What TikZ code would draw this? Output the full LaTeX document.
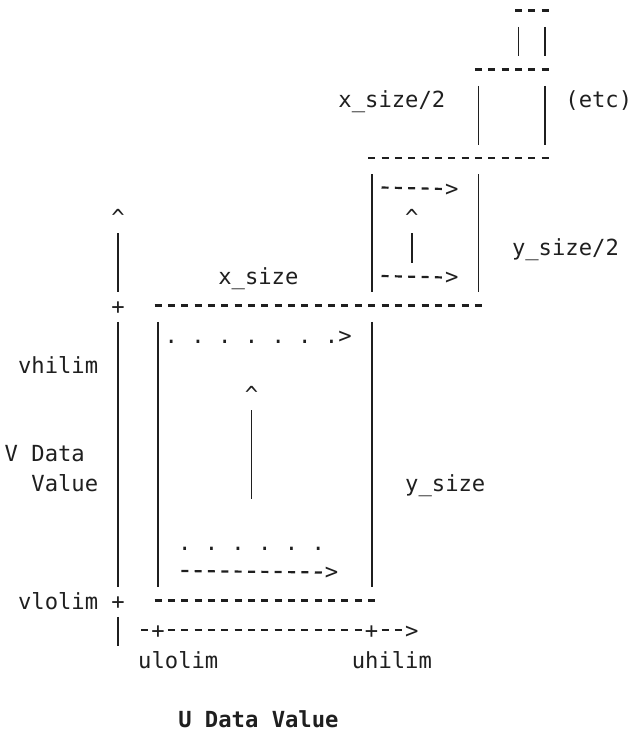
\documentclass[tikz,border=0pt]{standalone}
\usepackage{fontspec}
\setmonofont{DejaVu Sans Mono}
\usepackage{tikz}

\begin{document}
\begin{tikzpicture}[x=13.35pt,y=-29.5pt,
	ch/.style={inner sep=0pt,minimum width=13.35pt,minimum height=29.5pt,text height=20pt,text depth=5.2pt,text=black!88,font=\ttfamily\fontsize{22.18}{29.5}\selectfont},
	lbl/.style={ch,minimum width=0pt,anchor=west},
	bar/.style={line width=1.8pt,black!88},
	dashrun/.style={line width=2.2pt,black!88,dash pattern=on 7pt off 6.35pt,yshift=1.5pt}]
		\useasboundingbox (-0.84,-0.407) rectangle (46.5,24.407);
		% V axis
		\node[ch] (vtip) at (8,7) {\textasciicircum};
		\node[ch] (vhi) at (8,10) {+};
		\node[ch] (vlo) at (8,20) {+};
		\coordinate (vend) at (8,21.5);
		\draw[bar] (vtip.south) -- (vhi.north) (vhi.south) -- (vlo.north) (vlo.south) -- (vend);
		% boxes
		\foreach \c/\a/\b in {38/1/1,40/1/1,35/3/4,40/3/4,27/6/9,35/6/9,11/11/19,27/11/19}
			\draw[bar] (\c,\a-.5) -- (\c,\b+.5);
		\foreach \a/\b/\r in {38/40/0,35/40/2,27/40/5,11/35/10,11/27/20,10/10/21,12/26/21,28/29/21}
			\draw[dashrun] (\a-.262,\r) -- (\b+.262,\r);
		% U axis
		\node[ch] (ulo) at (11,21) {+};
		\node[ch] (uhi) at (27,21) {+};
		\node[ch] (uhead) at (30,21) {>};
		% scan arrows
		\node[ch] (shead1) at (33,6) {>};
		\node[ch] (shead2) at (33,9) {>};
		\draw[dashrun] (28-.262,6) -- (shead1.west);
		\draw[dashrun] (28-.262,9) -- (shead2.west);
		\node[ch] (stip) at (30,7) {\textasciicircum};
		\coordinate (sbot) at (30,8.5);
		\draw[bar] (stip.south) -- (sbot);
		\foreach \c in {12,14,...,24}
			\node[ch] (dot\c) at (\c,11) {.};
		\node[ch] (dhead) at (25,11) {>};
		\node[ch] (btip) at (18,13) {\textasciicircum};
		\coordinate (bbot) at (18,16.5);
		\draw[bar] (btip.south) -- (bbot);
		\foreach \c in {13,15,...,23}
			\node[ch] (ldot\c) at (\c,18) {.};
		\node[ch] (lhead) at (24,19) {>};
		\draw[dashrun] (13-.262,19) -- (lhead.west);
		% labels
		\node[lbl] (xhalf) at (24.5,3) {x\_size/2};
		\node[lbl] (etc) at (41.5,3) {(etc)};
		\node[lbl] (yhalf) at (37.5,8) {y\_size/2};
		\node[lbl] (xsize) at (15.5,9) {x\_size};
		\node[lbl] (vhilim) at (0.5,12) {vhilim};
		\node[lbl] (vdata) at (-0.5,15) {V Data};
		\node[lbl] (vvalue) at (1.5,16) {Value};
		\node[lbl] (ysize) at (29.5,16) {y\_size};
		\node[lbl] (vlolim) at (0.5,20) {vlolim};
		\node[lbl] (ulolim) at (9.5,22) {ulolim};
		\node[lbl] (uhilim) at (25.5,22) {uhilim};
		\node[lbl,font=\ttfamily\bfseries\fontsize{22.18}{29.5}\selectfont] (udata) at (12.5,24) {U Data Value};
\end{tikzpicture}
\end{document}
